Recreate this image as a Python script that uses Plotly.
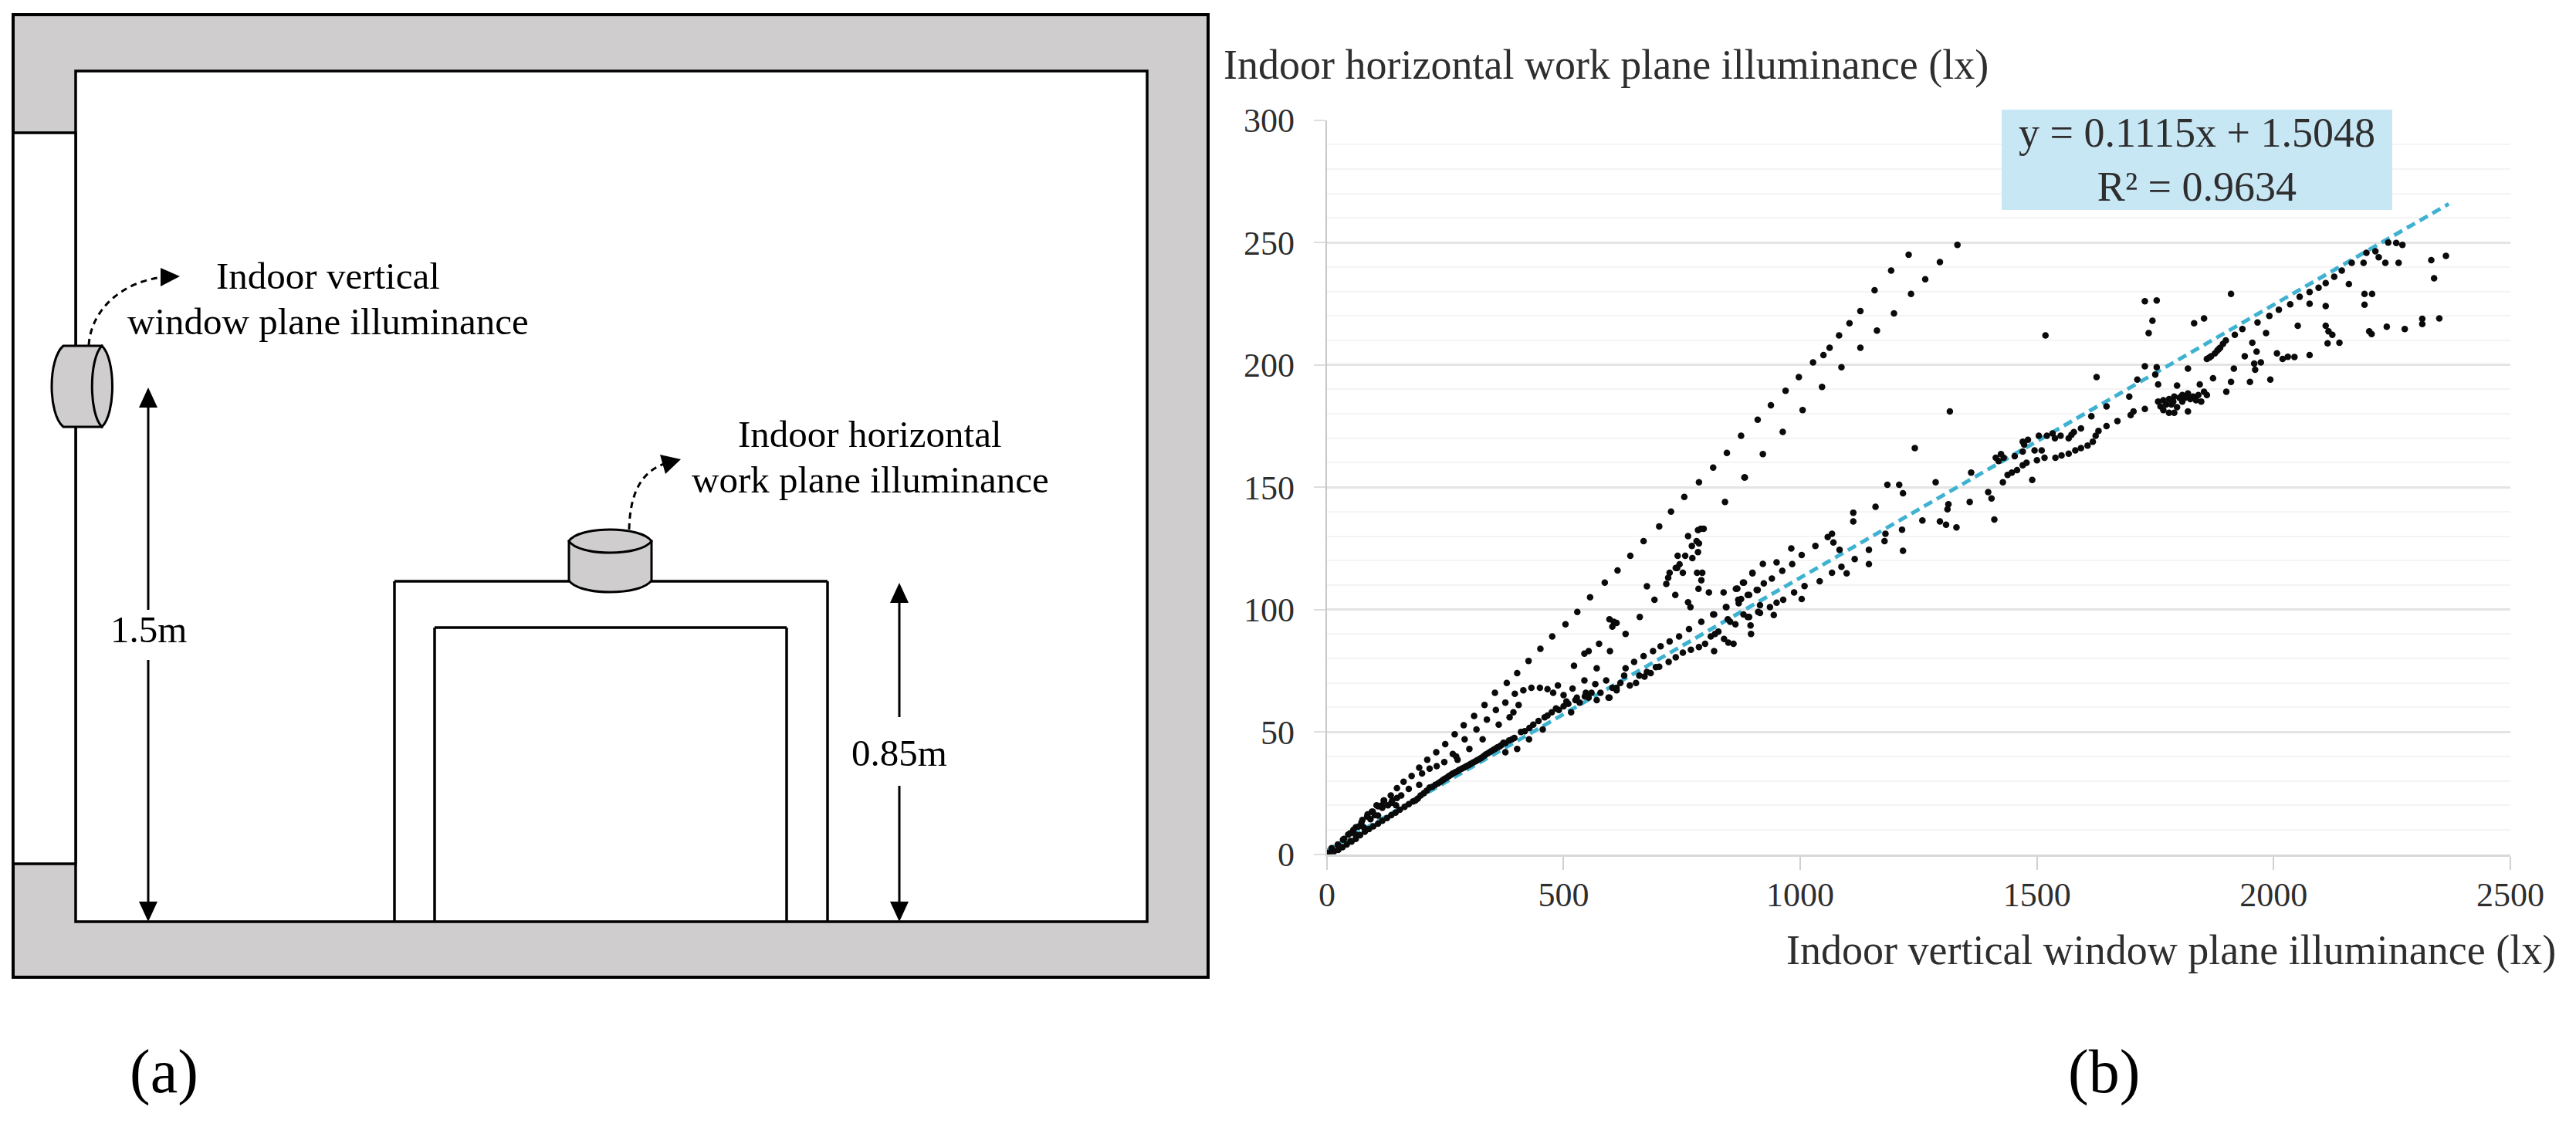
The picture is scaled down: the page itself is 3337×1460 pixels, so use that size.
import plotly.graph_objects as go

# upper branch, window plane vs work plane
upper_x = [11, 24, 36, 49, 61, 73, 85, 95, 108, 120, 135, 148, 162, 179, 195, 212, 231, 250, 270, 289,
           311, 333, 355, 380, 402, 426, 451, 476, 504, 529, 556, 587, 614, 641, 669, 702, 727, 755, 786, 816,
           845, 875, 910, 938, 969, 997, 1027, 1049, 1062, 1082, 1104, 1127, 1157, 1192, 1229, 1332,
           841, 883, 921, 963, 1005, 1046, 1087, 1127, 1162, 1198, 1234, 1264, 1295]
upper_y = [1.8, 3.5, 6.3, 8.6, 11, 13, 15.4, 17.4, 19.6, 22, 24, 27, 29.6, 32, 35.4, 38.6, 41.7, 45, 49, 52.7,
           56.5, 61, 66, 70, 74, 79, 84, 89, 94, 99, 105, 111, 116, 122, 128, 134, 140, 146, 152, 158,
           164, 171, 177.6, 183.5, 189.4, 195, 201, 204, 207, 212, 217, 222, 230.5, 238.5, 245, 249,
           144, 154, 163.5, 172.6, 181.5, 191, 199, 207, 214, 221, 229, 235, 242]

# inner scatter below the upper branch
inner_x = [882, 796, 784, 763, 771, 786, 784, 772, 757, 741, 745, 740, 737, 752, 724, 721, 717, 782, 793, 791,
           785, 807, 838, 864, 879, 899, 736, 676, 692, 763, 768, 661, 597, 606, 612, 603, 631, 575, 553, 544,
           598, 522, 570, 405, 394, 386, 397, 415, 432, 450, 466, 488, 478, 500, 506, 519, 528, 544, 567, 590,
           547, 553, 570, 597, 612, 377, 357, 338, 316, 363, 329, 291, 301, 266, 273, 276, 248, 232, 217, 201,
           195, 173, 157, 136, 117, 101, 790, 781]
inner_y = [154, 133, 132.5, 130, 126, 127, 123.5, 121, 122, 122, 118.5, 117, 117, 115, 115, 113, 110.5, 115, 115, 112,
           108.5, 107, 107, 108.5, 111, 115, 106, 109.5, 104, 103, 101, 97, 96, 95, 94.5, 93, 90, 86, 83, 82,
           83, 77, 76, 61, 58, 56, 65.6, 67, 68, 68, 67.5, 69, 66, 65, 62.4, 67.7, 64, 71, 69.5, 71,
           66, 64, 63, 64, 67, 62, 59, 55, 51, 53, 47, 47, 43, 41, 40, 38.6, 37.7, 36, 35, 33,
           28.4, 26.7, 24, 21, 19, 16, 133, 128]

# dense band along the trend
band_x = [5, 15, 24, 33, 42, 52, 61, 70, 80, 89, 98, 108, 117, 127, 136, 145, 154, 164, 173, 182,
          192, 205, 217, 229, 240, 248, 258, 266, 276, 285, 295, 304, 314, 323, 332, 341, 351, 360, 368, 377,
          377, 391, 402, 410, 427, 428, 447, 456, 466, 484, 516, 534, 559, 595, 612, 628, 631, 640, 649, 653,
          669, 671, 684, 689, 702, 705, 722, 724, 737, 744, 752, 765, 769, 786, 791, 799, 811, 816, 818, 820,
          827, 839, 844, 848, 852, 859, 863, 869, 880, 889, 889, 895, 896, 908, 911]
band_y = [0.5, 1.2, 1.8, 2.9, 4, 5.2, 6.3, 7.8, 9.2, 10.3, 11.4, 12.5, 13.7, 14.8, 16, 17, 18.2, 19.4, 20.5, 21.6,
          22.8, 25, 27.3, 28.4, 29.6, 30.7, 32, 33, 34, 35, 36, 37, 38, 39, 40.2, 41.4, 42.6, 43.7, 44.5, 45.4,
          41.7, 47, 43, 50, 47, 51.6, 54.5, 51, 56.7, 59.6, 58, 62, 66, 64, 68, 73, 76, 69, 78.6, 70,
          81, 72.6, 74, 83, 76.6, 85, 78.6, 87, 80.5, 89, 82.4, 92, 83.6, 84.7, 95, 86, 89, 98, 83, 90,
          91, 88, 101, 86.5, 95, 86, 94, 104, 98, 97, 106, 93.5, 90, 108, 99]

# extra points read near the origin and along the thick part of the band
origin_x = [121, 116, 105, 97, 86, 108, 92, 75, 67, 78, 56, 45, 61, 34, 50, 23, 10, 1, 138, 129, 146, 148,
            187, 198, 211, 223, 235, 244, 253, 262, 271, 280, 290, 300, 309, 318, 327, 336, 346, 355, 364, 373,
            385, 396, 418, 436, 460, 475, 490, 500, 510, 525, 545, 578, 603, 620, 660, 676, 695]
origin_y = [22, 20, 20, 17.4, 16.3, 15.8, 14.3, 14, 11.3, 11, 10, 8, 8, 6, 5.4, 4, 2.5, 0.5, 22, 20, 20, 23,
            22, 24, 26, 27.6, 29, 30.2, 31.3, 32.5, 33.5, 34.5, 35.5, 36.5, 37.5, 38.5, 39.5, 40.8, 42, 43, 44, 45.6,
            46.5, 47.5, 50.3, 53, 56, 58, 59, 60.5, 61.5, 63, 64.5, 66, 68, 70, 73, 74.5, 76.5]

# right part, 900 lx and above, below the upper branch
right_x = [1316, 1518, 1242, 1184, 1209, 1286, 1217, 1159, 1112, 1112, 1361, 1397, 1404, 1358, 1313, 1311, 1258, 1295, 1308, 1330,
           1410, 1180, 1178, 1215, 1217, 1145, 1058, 1067, 1070, 1083, 1032, 981, 1003, 921, 950, 983, 1115, 1145, 1087, 1067,
           1098, 1041, 962, 899, 940, 923, 881, 867, 910, 892, 875, 870, 1009, 987, 1003, 964, 950, 936, 915, 915,
           944, 892, 843, 818, 847]
right_y = [181, 212, 166, 151, 151, 152, 147.5, 142, 139.6, 136, 156, 148, 145.4, 144, 143, 141, 136.4, 136, 134.7, 133.6,
           136.8, 131, 128, 132.6, 124, 124.4, 129.6, 131, 127.4, 124.4, 126, 125, 122.3, 118.7, 119.3, 118.6, 120.6, 118.6, 117.5, 115,
           114.8, 111.6, 115.8, 114.8, 112.7, 110.7, 111, 108.6, 108, 106, 104.3, 102.6, 109.6, 107, 104.3, 104, 102.8, 101, 101.8, 98.6,
           97.8, 97, 101, 98, 96]

# strands around 1400-1730 lx
mid_x = [1428, 1438, 1447, 1458, 1470, 1478, 1490, 1500, 1516, 1539, 1552, 1567, 1581, 1593, 1607, 1618, 1624, 1630, 1647, 1670,
         1698, 1704, 1728, 1413, 1430, 1419, 1453, 1470, 1495, 1510, 1473, 1470, 1481, 1504, 1521, 1538, 1550, 1567, 1578, 1593,
         1533, 1573, 1424, 1615, 1626, 1647]
mid_y = [152, 155, 156, 157, 159, 160, 153, 161, 162, 162, 163, 163.7, 165, 166, 167, 168.6, 171, 173, 175, 177,
         179.5, 181, 182, 162, 162, 160.7, 162.7, 164.6, 165, 165, 167.4, 168.6, 169.4, 171, 171, 170, 171, 170, 172.5, 174,
         172, 171.4, 163.5, 179, 195, 183]

# top right, 1700 lx and above
far_x = [1728, 1753, 1728, 1753, 1744, 1736, 1712, 1750, 1756, 1695, 1796, 1819, 1844, 1872, 1832, 1853, 1910,
         1756, 1761, 1767, 1779, 1790, 1767, 1779, 1790, 1807, 1819, 1830, 1841, 1853, 1859, 1847, 1819, 1796, 1807, 1784,
         1773, 1824, 1836, 1788, 1801, 1813, 1900, 1910, 1950, 1993, 1916,
         1859, 1868, 1876, 1881, 1887, 1893, 1899, 1864, 1884,
         1918, 1934, 1966, 1991, 2011, 2035, 2055, 2076, 2095, 2110, 2128, 2144, 2165, 2190, 2196, 2215, 2222, 2242, 2259, 2272,
         2236, 2264, 1984, 1955, 1964, 1939, 1973, 1959, 1961, 2007, 2019, 2030, 2044, 2076, 2051, 2076, 2110, 2110, 2116, 2124,
         2114, 2139, 2159, 2192, 2208, 2192, 2202, 2207, 2239, 2277, 2314, 2314, 2350, 2333, 2364, 2339]
far_y = [199.4, 199, 226, 226.3, 218, 213, 194, 196, 192, 187, 191.5, 198.5, 192, 194.5, 217, 219, 229,
         185, 183, 181.5, 180.4, 180.4, 185.5, 186, 187, 187.7, 188.3, 187, 187.7, 189, 187.7, 185, 181, 182.7, 185, 183.8,
         183.8, 186, 185.5, 185, 186.6, 186.6, 189, 193, 193, 194, 198.5,
         202.4, 203.5, 204.7, 205.8, 207, 208.6, 210, 203, 206.4,
         212.3, 214.6, 217.3, 220, 222.5, 224.7, 227.8, 229.8, 231.5, 233.4, 236, 238.5, 241.7, 241.7, 245.8, 246.4, 244, 250, 249.8, 249,
         241.7, 241.7, 213, 209, 205.4, 203.5, 201, 200.5, 198, 204.7, 202.4, 203.3, 203.2, 204, 216, 225, 224, 216, 213.7, 212.3,
         208.8, 209, 233, 229, 229, 224.6, 213.7, 212.6, 215.6, 214.6, 218.8, 216.7, 219, 242.8, 244.5, 235.4]

trend_x = [0, 2370]
trend_y = [1.5, 265.8]

x_ticks = [0, 500, 1000, 1500, 2000, 2500]
y_ticks = [0, 50, 100, 150, 200, 250, 300]

SERIF = "Liberation Serif"
GRAY = "#cfcdce"
TEXT = "#2e2e2e"

fig = go.Figure()

fig.add_trace(go.Scatter(x=trend_x, y=trend_y,
                         mode='lines',
                         line=dict(color='#3fb2d2', width=5, dash='12px,7px'),
                         showlegend=False))
fig.add_trace(go.Scatter(x=upper_x + inner_x + band_x + origin_x + right_x + mid_x + far_x,
                         y=upper_y + inner_y + band_y + origin_y + right_y + mid_y + far_y,
                         mode='markers',
                         marker=dict(color='#0a0a0a', size=8.5),
                         showlegend=False))


def line(x0, y0, x1, y1, width=3.5):
    return dict(type='line', xref='x2', yref='y2', x0=x0, y0=y0, x1=x1, y1=y1,
                line=dict(color='black', width=width))


def rect(x0, y0, x1, y1, fill='rgba(0,0,0,0)', width=3.5):
    return dict(type='rect', xref='x2', yref='y2', x0=x0, y0=y0, x1=x1, y1=y1,
                fillcolor=fill, line=dict(color='black', width=width))


def path(d, fill='rgba(0,0,0,0)', width=3, dash='solid', color='black'):
    return dict(type='path', xref='x2', yref='y2', path=d, fillcolor=fill,
                line=dict(color=color, width=width, dash=dash))


def head(d):
    return dict(type='path', xref='x2', yref='y2', path=d, fillcolor='black', line=dict(width=0))


shapes = [
    # walls and room
    rect(17, 19, 1565, 1266, fill=GRAY, width=4),
    rect(98, 92, 1486, 1194, fill='white'),
    rect(17, 172, 98, 1119, fill='white'),
    # table
    line(511, 1194, 511, 753),
    line(511, 753, 1072, 753),
    line(1072, 753, 1072, 1194),
    line(563, 1194, 563, 813),
    line(563, 813, 1019, 813),
    line(1019, 813, 1019, 1194),
    # window sensor
    path('M 132,448 L 82,448 C 62,465 62,536 82,553 L 132,553 Z', fill=GRAY),
    path('M 132,448 C 115,465 115,536 132,553 C 150,536 150,465 132,448 Z', fill=GRAY),
    # table sensor
    path('M 737,701 L 737,752 C 750,772 830,772 844,752 L 844,701 Z', fill=GRAY),
    path('M 737,701 C 750,681 830,681 844,701 C 830,721 750,721 737,701 Z', fill=GRAY),
    # height arrows
    line(192, 525, 192, 790, width=3),
    line(192, 855, 192, 1170, width=3),
    head('M 192,502 L 180,528 L 204,528 Z'),
    head('M 192,1194 L 180,1168 L 204,1168 Z'),
    line(1165, 778, 1165, 929, width=3),
    line(1165, 1018, 1165, 1170, width=3),
    head('M 1165,755 L 1153,781 L 1177,781 Z'),
    head('M 1165,1194 L 1153,1168 L 1177,1168 Z'),
    # dashed leaders
    path('M 115,447 C 118,400 160,364 212,359', dash='8px,6px'),
    head('M 233,358 L 208,347 L 208,371 Z'),
    path('M 815,686 C 816,640 830,612 860,601', dash='8px,6px'),
    head('M 882,595 L 855,589 L 862,614 Z'),
    # equation box
    dict(type='rect', xref='x2', yref='y2', x0=2593, y0=142, x1=3099, y1=272,
         fillcolor='#c8e7f5', line=dict(width=0), layer='below'),
]


def label(text, x, y, size=49, color='black', family=SERIF):
    return dict(text=text, x=x, y=y, xref='x2', yref='y2', showarrow=False,
                xanchor='center', yanchor='middle',
                font=dict(family=family, size=size, color=color))


annotations = [
    label('Indoor vertical', 425, 357),
    label('window plane illuminance', 425, 416),
    label('Indoor horizontal', 1127, 562),
    label('work plane illuminance', 1127, 621),
    label('1.5m', 192, 815),
    label('0.85m', 1165, 975),
    label('(a)', 212, 1388, size=80),
    label('(b)', 2725, 1388, size=80),
    label('Indoor horizontal work plane illuminance (lx)', 2080, 84, size=54, color=TEXT),
    label('Indoor vertical window plane illuminance (lx)', 2812, 1231, size=54, color=TEXT),
    label('y = 0.1115x + 1.5048<br>R² = 0.9634', 2846, 207, size=54, color=TEXT),
]

fig.update_layout(
    width=3337, height=1460,
    margin=dict(l=0, r=0, t=0, b=0),
    template='none',
    paper_bgcolor='white', plot_bgcolor='rgba(0,0,0,0)',
    shapes=shapes, annotations=annotations,
    xaxis=dict(domain=[0.5151, 0.9745], range=[0, 2500], tickvals=x_ticks, automargin=False,
               showgrid=False, zeroline=False, showline=True, linecolor='#d8d8d8', linewidth=3,
               ticks='outside', ticklen=17, tickcolor='#d0d0d0', tickwidth=2,
               ticklabelstandoff=-5,
               tickfont=dict(family=SERIF, size=44, color=TEXT)),
    yaxis=dict(domain=[0.2420, 0.8934], range=[0, 300], tickvals=y_ticks, automargin=False,
               showgrid=True, gridcolor='#e4e4e4', gridwidth=2.5, zeroline=False,
               showline=True, linecolor='#c8c8c8', linewidth=2,
               ticks='outside', ticklen=15, tickcolor='#dedede', tickwidth=2,
               ticklabelstandoff=16,
               minor=dict(dtick=10, showgrid=True, gridcolor='#f4f4f4', gridwidth=1.5, ticks=''),
               tickfont=dict(family=SERIF, size=44, color=TEXT)),
    xaxis2=dict(domain=[0, 1], range=[0, 3337], visible=False, anchor='y2', fixedrange=True, automargin=False),
    yaxis2=dict(domain=[0, 1], range=[1460, 0], visible=False, anchor='x2', fixedrange=True, automargin=False),
)

# the page's default body margin would push the figure 8 px off
fig.write_html("out.html", config={'displayModeBar': False},
               post_script="document.body.style.margin='0';")
